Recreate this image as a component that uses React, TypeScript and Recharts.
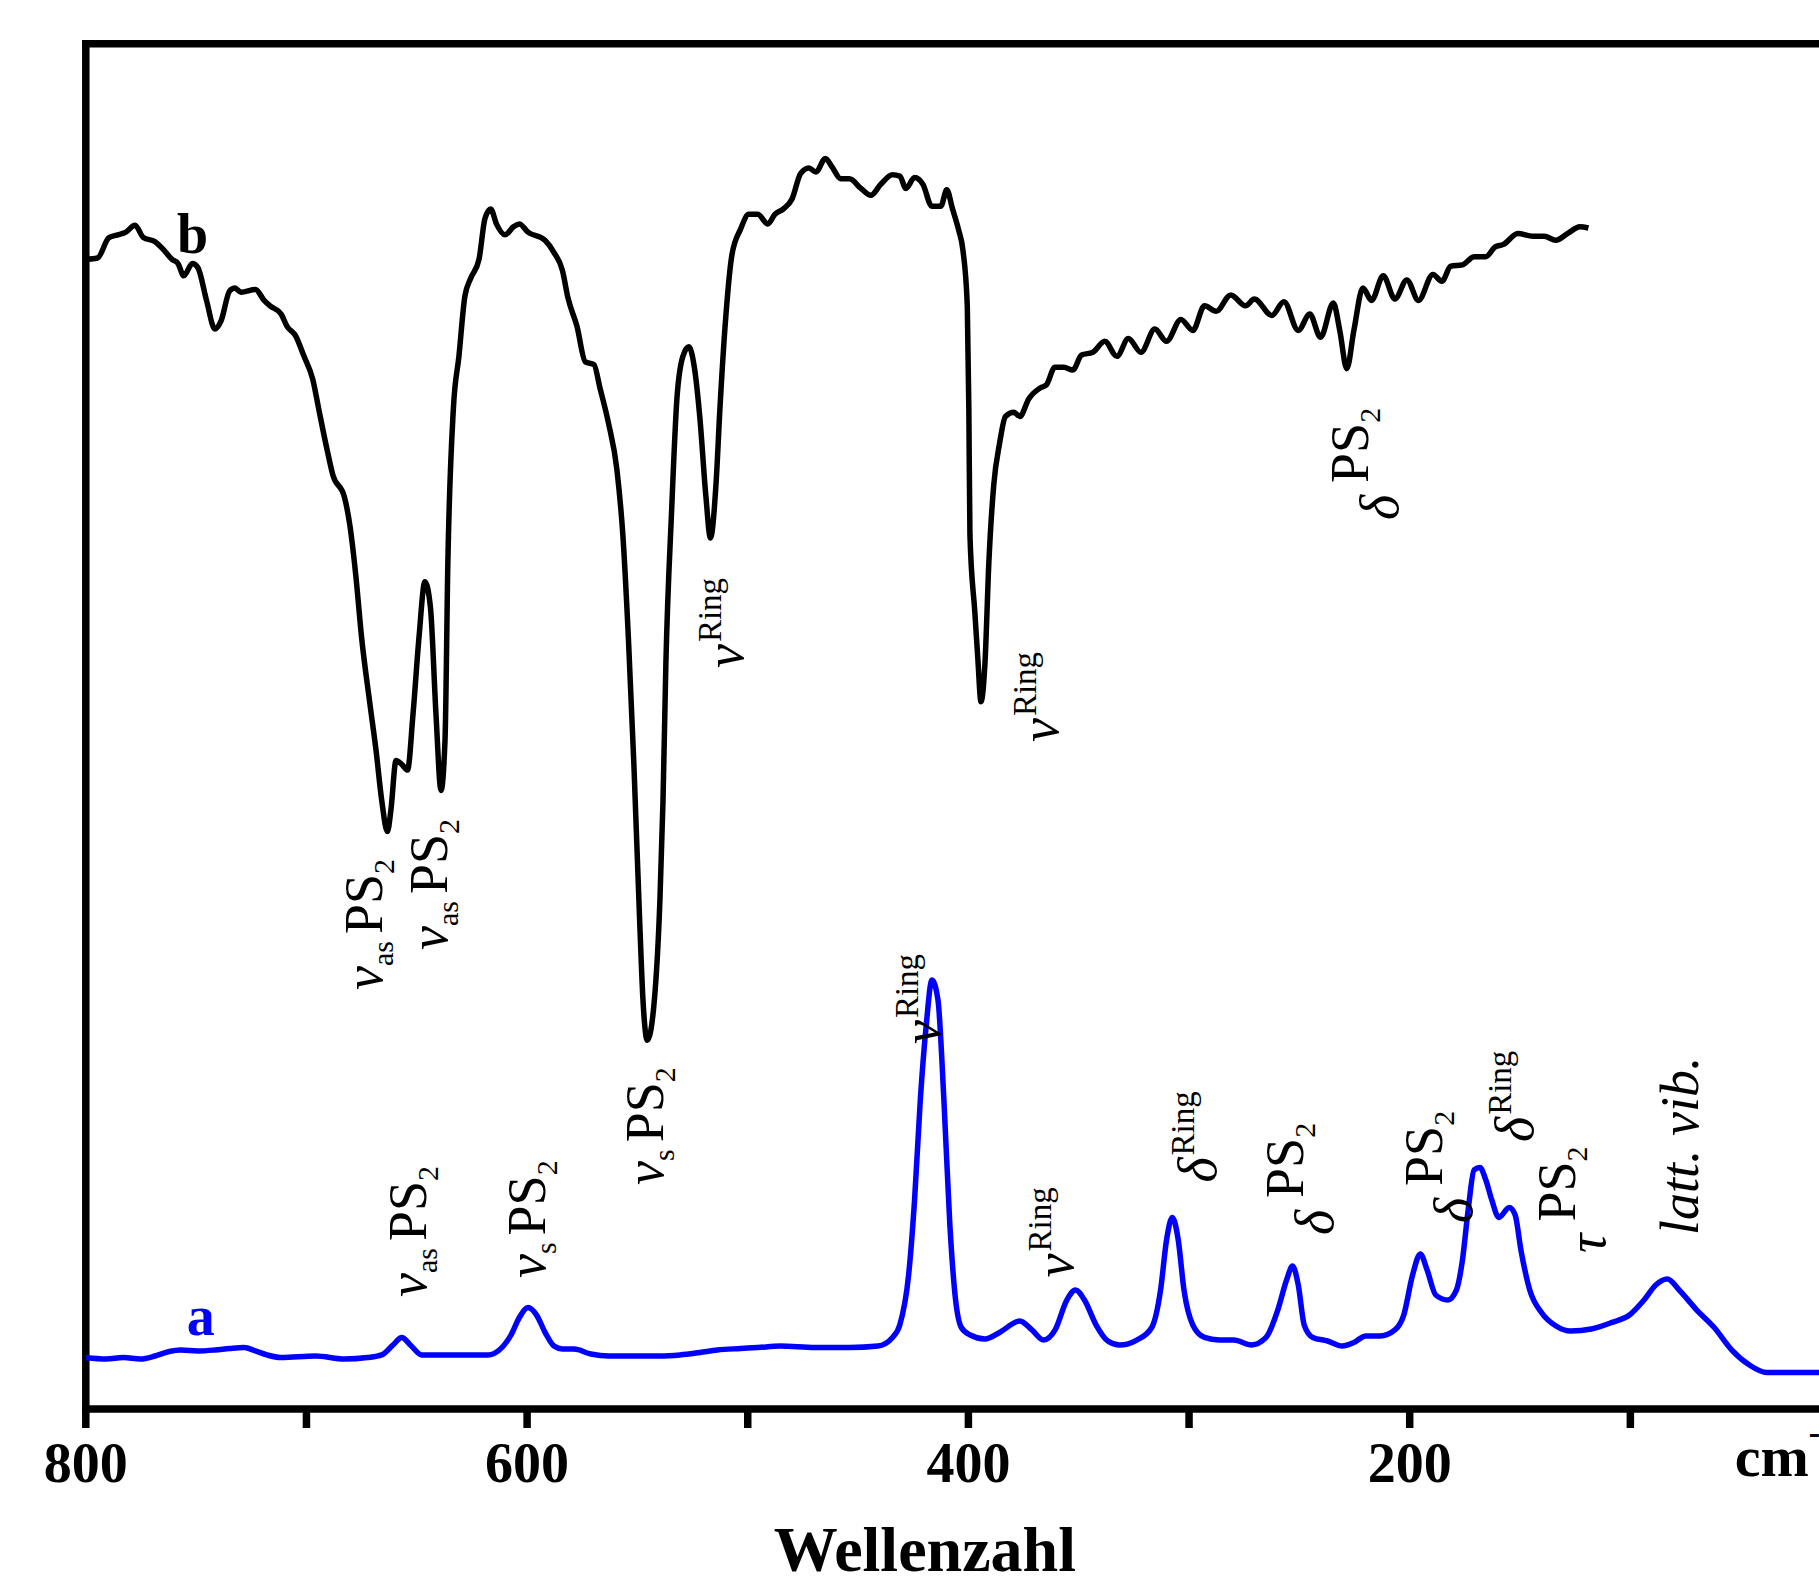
import React from 'react';
import { LineChart, Line, XAxis, YAxis, ReferenceLine, ReferenceDot, Label } from 'recharts';

const FONT = "'Liberation Serif', 'Times New Roman', Times, serif";

// wavenumber axis (cm^-1), only every other tick carries a number
const xTicks = [800, 700, 600, 500, 400, 300, 200, 100];
const labeledTicks = [800, 600, 400, 200];

// spectrum b (IR), [wavenumber, intensity a.u.]
const spectrumB: [number, number][] = [
  [800, 84.2], [794.7, 84.3], [789.5, 85.8], [785.5, 86.0], [781.8, 86.2], [777.7, 86.7],
  [773.9, 85.8], [768.6, 85.5], [764.7, 84.9], [760.9, 84.2], [758.2, 83.9], [755.6, 83.0],
  [751.7, 83.9], [749.2, 83.6], [745.3, 81.2], [741.5, 79.1], [738.7, 79.7], [734.8, 81.9],
  [732.4, 82.1], [729.7, 81.8], [723.1, 82.0], [719.2, 81.2], [716.5, 80.8], [711.5, 80.2],
  [708.8, 79.3], [704.9, 78.6], [701.1, 77.1], [697.1, 75.4], [694.5, 73.3], [690.7, 70.3],
  [688.0, 68.4], [682.8, 66.8], [680.3, 64.7], [677.6, 61.0], [675.0, 56.5], [671.2, 51.6],
  [668.5, 48.3], [665.9, 44.6], [663.3, 42.3], [661.7, 43.9], [659.4, 47.5], [656.7, 47.2],
  [654.2, 46.8], [651.7, 50.9], [649.0, 56.5], [646.3, 60.6], [643.8, 58.7], [641.3, 50.9],
  [639.0, 45.3], [637.2, 49.0], [635.9, 62.1], [633.4, 73.3], [630.9, 77.1], [628.2, 81.5],
  [625.6, 82.8], [621.8, 84.2], [619.1, 87.2], [616.5, 87.9], [613.9, 86.8], [610.0, 86.0],
  [606.1, 86.6], [603.5, 86.8], [599.6, 86.2], [591.9, 85.6], [587.8, 84.7], [584.0, 83.4],
  [581.5, 81.4], [577.4, 79.3], [573.6, 76.7], [569.7, 76.5], [567.0, 74.8], [563.1, 72.2],
  [559.3, 68.8], [556.6, 64.0], [554.1, 56.5], [551.6, 47.2], [548.9, 35.4], [547.5, 30.0],
  [545.5, 27.0], [542.3, 30.0], [539.8, 37.3], [538.4, 44.6], [537.1, 54.6], [534.5, 65.8],
  [532.1, 74.0], [529.4, 77.1], [526.7, 77.8], [524.2, 76.3], [521.7, 72.6], [519.0, 66.9],
  [516.9, 63.8], [514.4, 67.7], [512.6, 73.3], [509.9, 80.1], [507.2, 84.5], [503.3, 86.4],
  [499.5, 87.5], [495.5, 87.5], [490.9, 86.8], [487.7, 87.5], [483.8, 87.9], [480.0, 88.6],
  [476.0, 90.5], [472.3, 90.9], [469.1, 90.6], [464.8, 91.6], [461.9, 91.0], [457.8, 90.1],
  [453.9, 90.1], [448.7, 89.4], [444.2, 88.9], [439.7, 89.7], [434.4, 90.4], [431.1, 90.3],
  [428.3, 89.4], [424.4, 90.2], [420.6, 89.7], [416.6, 88.1], [412.5, 88.1], [409.8, 89.3],
  [407.2, 87.9], [404.5, 86.4], [402.5, 84.9], [400.5, 80.8], [399.8, 73.3], [399.3, 64.0],
  [397.1, 58.4], [395.7, 54.9], [394.3, 51.8], [392.5, 54.6], [390.7, 62.1], [388.5, 67.7],
  [385.9, 70.7], [383.2, 72.7], [379.4, 73.0], [376.7, 72.7], [372.6, 74.0], [367.3, 74.8],
  [364.7, 75.0], [360.8, 76.3], [356.7, 76.3], [352.7, 76.1], [348.7, 77.2], [343.6, 77.4],
  [338.2, 78.2], [332.7, 77.1], [327.5, 78.4], [321.8, 77.4], [315.5, 79.1], [310.2, 78.2],
  [303.7, 79.8], [298.3, 79.0], [293.0, 80.8], [287.7, 80.4], [281.1, 81.6], [274.4, 80.8],
  [270.4, 81.3], [262.5, 80.1], [257.0, 81.1], [250.5, 79.0], [245.3, 80.2], [240.4, 78.5],
  [234.6, 81.0], [231.7, 79.0], [228.5, 76.2], [225.3, 79.0], [221.2, 82.1], [217.3, 81.2],
  [212.0, 83.0], [206.7, 81.3], [201.3, 82.7], [196.0, 81.2], [189.5, 83.1], [185.4, 82.6],
  [181.4, 83.7], [176.1, 83.8], [170.8, 84.4], [165.5, 84.4], [161.4, 85.1], [157.5, 85.3],
  [151.0, 86.1], [144.2, 85.9], [139.0, 85.9], [133.8, 85.6], [128.4, 86.1], [122.9, 86.6],
  [119.0, 86.5],
];

// spectrum a (Raman), [wavenumber, intensity a.u.]
const spectrumA: [number, number][] = [
  [800, 3.77], [790.8, 3.66], [783.0, 3.77], [775.2, 3.66], [768.6, 3.88], [762.2, 4.21],
  [757.0, 4.32], [749.2, 4.25], [741.5, 4.32], [734.8, 4.43], [728.3, 4.5], [723.1, 4.25],
  [717.9, 3.96], [711.5, 3.77], [695.8, 3.88], [682.8, 3.66], [672.4, 3.77], [665.9, 3.96],
  [660.8, 4.69], [656.8, 5.24], [652.9, 4.69], [647.7, 3.96], [633.4, 3.96], [617.7, 3.96],
  [612.6, 4.32], [607.3, 5.42], [603.5, 6.7], [599.6, 7.43], [595.7, 6.88], [591.8, 5.6],
  [587.8, 4.61], [584.0, 4.39], [578.8, 4.39], [571.1, 4.03], [563.1, 3.88], [552.8, 3.88],
  [539.8, 3.88], [530.7, 3.96], [521.7, 4.14], [513.8, 4.32], [503.3, 4.43], [495.5, 4.5],
  [485.2, 4.61], [469.6, 4.5], [453.9, 4.5], [441.0, 4.61], [434.4, 5.24], [431.1, 6.15],
  [427.1, 9.81], [424.4, 15.31], [421.8, 22.63], [419.1, 28.13], [416.5, 31.42], [413.8, 29.96],
  [411.1, 22.63], [408.4, 13.48], [405.8, 7.98], [403.2, 5.97], [399.2, 5.42], [392.5, 5.13],
  [385.9, 5.6], [376.7, 6.45], [371.2, 5.79], [366.0, 5.05], [360.7, 5.79], [355.4, 7.98],
  [351.4, 8.72], [347.4, 7.98], [342.1, 6.15], [336.8, 4.98], [331.5, 4.69], [323.7, 5.05],
  [316.9, 5.97], [312.9, 8.72], [310.2, 12.38], [307.6, 14.03], [304.9, 12.38], [302.3, 8.72],
  [298.3, 6.15], [293.0, 5.24], [286.3, 5.05], [279.7, 5.05], [271.7, 4.69], [265.1, 5.24],
  [259.8, 7.25], [255.8, 9.45], [253.1, 10.47], [250.5, 9.08], [247.8, 6.15], [243.9, 5.24],
  [237.2, 4.98], [230.6, 4.61], [225.3, 4.87], [219.9, 5.35], [213.3, 5.35], [206.7, 5.79],
  [202.7, 6.88], [198.7, 9.81], [195.2, 11.35], [192.1, 10.18], [188.2, 8.35], [182.7, 7.98],
  [178.8, 8.72], [176.1, 10.91], [173.5, 14.58], [170.8, 17.51], [168.2, 17.69], [165.5, 16.77],
  [162.8, 15.31], [159.6, 14.03], [154.9, 14.76], [152.2, 14.21], [149.6, 11.65], [145.6, 8.72],
  [140.3, 7.07], [133.7, 6.08], [127.0, 5.71], [117.7, 5.86], [108.4, 6.34], [100.4, 6.88],
  [93.8, 7.98], [88.5, 9.08], [83.2, 9.52], [77.9, 8.72], [69.9, 7.25], [62.0, 5.97],
  [54.0, 4.32], [46.0, 3.22], [38.2, 2.67], [27.4, 2.67], [14.6, 2.67], [5, 2.7],
];

// band assignments, anchored at [wavenumber, intensity]
const bandLabels = [
  { x: 665.8, y: 30.69, kind: 'sub', greek: 'ν', mode: 'as' },
  { x: 636.3, y: 33.62, kind: 'sub', greek: 'ν', mode: 'as' },
  { x: 538.4, y: 16.41, kind: 'sub', greek: 'ν', mode: 's' },
  { x: 502.2, y: 54.27, kind: 'ring', greek: 'ν' },
  { x: 359.4, y: 48.85, kind: 'ring', greek: 'ν' },
  { x: 205.4, y: 65.11, kind: 'ps', greek: 'δ' },
  { x: 645.8, y: 8.2, kind: 'sub', greek: 'ν', mode: 'as' },
  { x: 591.9, y: 9.59, kind: 'sub', greek: 'ν', mode: 's' },
  { x: 412.9, y: 26.73, kind: 'ring', greek: 'ν' },
  { x: 352.7, y: 9.63, kind: 'ring', greek: 'ν' },
  { x: 287.9, y: 16.59, kind: 'ring', greek: 'δ' },
  { x: 234.8, y: 12.74, kind: 'ps', greek: 'δ' },
  { x: 171.8, y: 13.62, kind: 'ps', greek: 'δ' },
  { x: 144.2, y: 19.56, kind: 'ring', greek: 'δ' },
  { x: 111.6, y: 11.43, kind: 'ps', greek: 'τ' },
  { x: 69.4, y: 12.74, kind: 'plain', text: 'latt. vib.' },
];

// curve names
const curveNames = [
  { x: 758.7, y: 84.7, text: 'b', color: '#000000' },
  { x: 754.3, y: 5.42, text: 'a', color: '#0000ff' },
];

const toPoints = (rows: [number, number][]) => rows.map(([x, y]) => ({ x, y }));

function BandText({ cx, cy, band }: any) {
  let body: React.ReactNode;
  if (band.kind === 'sub') {
    body = (
      <>
        <tspan fontStyle="italic">{band.greek}</tspan>
        <tspan fontSize={30} dy={11}>{band.mode}</tspan>
        <tspan dy={-11} dx={7}>PS</tspan>
        <tspan fontSize={30} dy={12}>2</tspan>
      </>
    );
  } else if (band.kind === 'ring') {
    body = (
      <>
        <tspan fontStyle="italic">{band.greek}</tspan>
        <tspan fontSize={33} dy={-22} dx={2}>Ring</tspan>
      </>
    );
  } else if (band.kind === 'ps') {
    body = (
      <>
        <tspan fontStyle="italic">{band.greek}</tspan>
        <tspan dy={-30} dx={12}>PS</tspan>
        <tspan fontSize={30} dy={12}>2</tspan>
      </>
    );
  } else {
    body = <tspan fontStyle="italic">{band.text}</tspan>;
  }
  return (
    <g transform={`translate(${cx},${cy}) rotate(-90)`}>
      <text x={0} y={0} fontFamily={FONT} fontSize={54} fill="#000">
        {body}
      </text>
    </g>
  );
}

function renderTick(props: any) {
  const { x, y, payload } = props;
  if (!labeledTicks.includes(payload.value)) return <g />;
  return (
    <text x={x} y={y + 52} textAnchor="middle" fontFamily={FONT} fontWeight="bold" fontSize={56} fill="#000">
      {payload.value}
    </text>
  );
}

function AxisTitle(props: any) {
  const vb = props.viewBox;
  return (
    <g fontFamily={FONT} fontWeight="bold" fill="#000">
      <text x={vb.x + 839} y={vb.y + 162} textAnchor="middle" fontSize={64}>Wellenzahl</text>
      <text x={vb.x + 1649} y={vb.y + 67} fontSize={58}>
        cm<tspan fontSize={34} dy={-32}>-1</tspan>
      </text>
    </g>
  );
}

export default function App() {
  const frame = { stroke: '#000', strokeWidth: 7.5, strokeLinecap: 'square' as const };
  return (
    <div style={{ position: 'fixed', left: 0, top: 0, width: 1819, height: 1584, overflow: 'hidden', background: '#fff' }}>
      <LineChart width={1851} height={1584} margin={{ top: 43.7, right: 0, bottom: 0, left: 85.8 }}>
        <XAxis
          type="number"
          dataKey="x"
          domain={[0, 800]}
          reversed
          allowDataOverflow
          ticks={xTicks}
          interval={0}
          height={175}
          tickSize={19}
          tickMargin={2}
          axisLine={frame}
          tickLine={{ stroke: '#000', strokeWidth: 7.5 }}
          tick={renderTick}
        >
          <Label content={AxisTitle} />
        </XAxis>
        <YAxis type="number" domain={[0, 100]} allowDataOverflow width={0} tick={false} tickLine={false} axisLine={false} />
        <ReferenceLine y={100} stroke="#000" strokeWidth={7.5} strokeLinecap="square" />
        <ReferenceLine x={800} stroke="#000" strokeWidth={7.5} strokeLinecap="square" />
        <Line
          data={toPoints(spectrumB)}
          dataKey="y"
          type="monotone"
          stroke="#000000"
          strokeWidth={5.5}
          strokeLinejoin="round"
          dot={false}
          isAnimationActive={false}
        />
        <Line
          data={toPoints(spectrumA)}
          dataKey="y"
          type="monotone"
          stroke="#0000ff"
          strokeWidth={5.5}
          strokeLinejoin="round"
          dot={false}
          isAnimationActive={false}
        />
        {bandLabels.map((b, i) => (
          <ReferenceDot key={`band-${i}`} x={b.x} y={b.y} r={0} shape={(p: any) => <BandText cx={p.cx} cy={p.cy} band={b} />} />
        ))}
        {curveNames.map((c) => (
          <ReferenceDot
            key={c.text}
            x={c.x}
            y={c.y}
            r={0}
            shape={(p: any) => (
              <text x={p.cx} y={p.cy} fontFamily={FONT} fontWeight="bold" fontSize={56} fill={c.color}>
                {c.text}
              </text>
            )}
          />
        ))}
      </LineChart>
    </div>
  );
}
